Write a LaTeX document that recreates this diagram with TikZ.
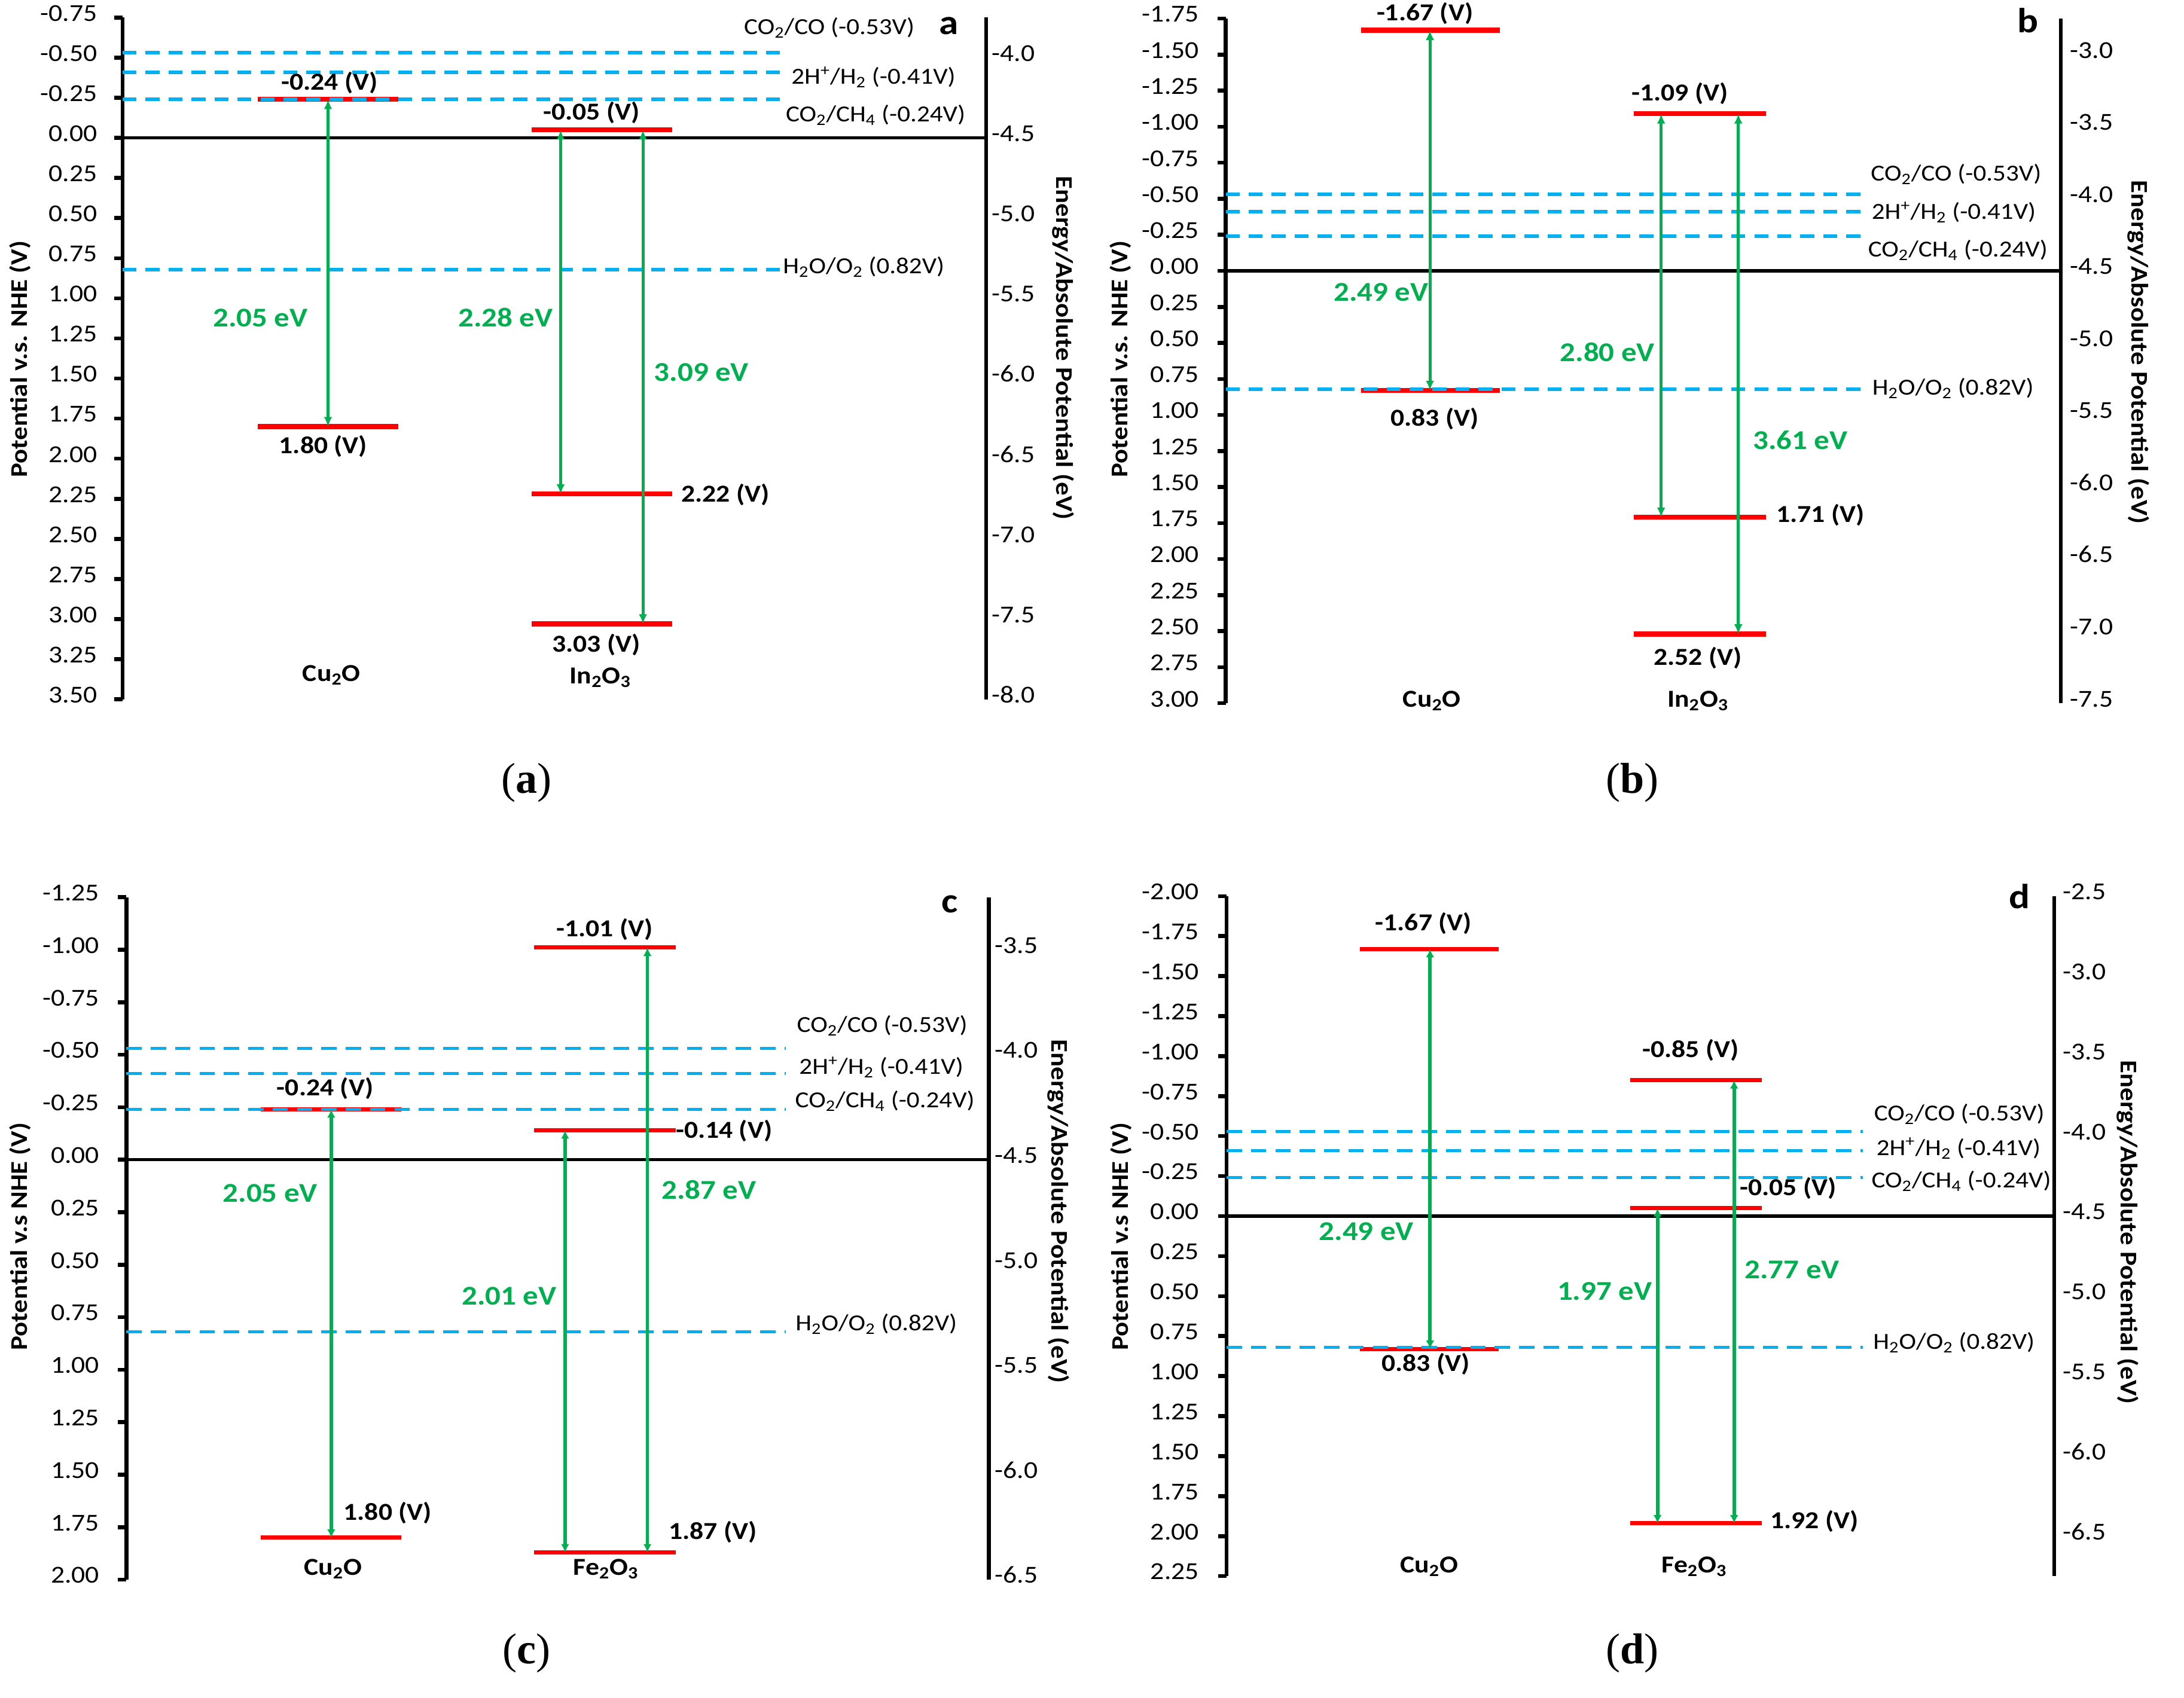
\documentclass[tikz,border=0pt]{standalone}
\usepackage{fontspec}
\setmainfont{Carlito}[FakeStretch=1.12]
\newfontfamily\capfont{Liberation Serif}
\usetikzlibrary{arrows.meta}
\definecolor{cyanl}{HTML}{00B0F0}
\definecolor{redl}{HTML}{FF0000}
\definecolor{greenl}{HTML}{00B050}
\tikzset{
  txt/.style={inner sep=0pt, text height=0.72em, text depth=0.22em},
  ticklab/.style={txt, anchor=east, font=\fontsize{17.5}{17.5}\selectfont},
  eaxlab/.style={txt, anchor=west, font=\fontsize{17.5}{17.5}\selectfont},
  vlab/.style={txt, font=\bfseries\fontsize{17.5}{17.5}\selectfont},
  gaplab/.style={txt, text=greenl, font=\bfseries\fontsize{19.5}{19.5}\selectfont},
  species/.style={txt, font=\bfseries\fontsize{17.5}{17.5}\selectfont},
  react/.style={txt, anchor=west, font=\fontsize{16.5}{16.5}\selectfont},
  atitle/.style={txt, font=\bfseries\fontsize{17.2}{17.2}\selectfont},
  plet/.style={txt, font=\bfseries\fontsize{25}{25}\selectfont},
  capt/.style={txt, font=\capfont\fontsize{31}{31}\selectfont},
  axisline/.style={line width=2.8pt, black},
  zeroline/.style={line width=2.2pt, black},
  band/.style={line width=3.6pt, redl},
  bandthin/.style={line width=3pt, redl},
  redox/.style={line width=2.6pt, cyanl, dash pattern=on 10pt off 6.5pt},
  redoxthin/.style={line width=2.3pt, cyanl, dash pattern=on 11pt off 6.5pt},
  gaparrow/.style={line width=2.1pt, greenl, {Latex[length=7pt,width=6pt]}-{Latex[length=7pt,width=6pt]}},
  gaparrowc/.style={line width=2.5pt, greenl, {Latex[length=6pt,width=6pt]}-{Latex[length=6pt,width=6pt]}},
}
\begin{document}
\begin{tikzpicture}[x=1pt, y=-1pt]
\fill[white] (0,0) rectangle (1568,1219);
\useasboundingbox (0,0) rectangle (1568,1219);

%================ Panel a =================
\begin{scope}[yshift=-99pt, y=-115.2pt]
  \draw[axisline] (88,-0.75) -- (88,3.5);
  \foreach \v/\t [count=\i] in {-0.75/-0.75,-0.5/-0.50,-0.25/-0.25,0/0.00,0.25/0.25,0.5/0.50,0.75/0.75,1/1.00,1.25/1.25,1.5/1.50,1.75/1.75,2/2.00,2.25/2.25,2.5/2.50,2.75/2.75,3/3.00,3.25/3.25,3.5/3.50}{
    \draw[axisline] (82,\v) -- (88,\v);
    \node[ticklab] (aT\i) at (70,\v) {\t};
  }
  \draw[axisline] (708,-0.75) -- (708,3.5);
  \foreach \v/\t [count=\i] in {-0.5/-4.0,0/-4.5,0.5/-5.0,1/-5.5,1.5/-6.0,2/-6.5,2.5/-7.0,3/-7.5,3.5/-8.0}{
    \node[eaxlab] (aE\i) at (712,\v) {\t};
  }
  \draw[zeroline] (88,0) -- (708,0);
  \draw[band] (185,-0.24) -- (286,-0.24);
  \draw[band] (185,1.80) -- (286,1.80);
  \draw[band] (381.6,-0.05) -- (482.6,-0.05);
  \draw[band] (381.6,2.22) -- (482.6,2.22);
  \draw[band] (381.6,3.03) -- (482.6,3.03);
  \foreach \v in {-0.53,-0.41,-0.24,0.82}{\draw[redox] (88,\v) -- (560,\v);}
  \coordinate (aCuC) at (235.5,-0.24);
  \coordinate (aCuV) at (235.5,1.80);
  \coordinate (aInC1) at (402.5,-0.05);
  \coordinate (aInV1) at (402.5,2.22);
  \coordinate (aInC2) at (461.6,-0.05);
  \coordinate (aInV2) at (461.6,3.03);
  \draw[gaparrow] (aCuC) -- (aCuV);
  \draw[gaparrow] (aInC1) -- (aInV1);
  \draw[gaparrow] (aInC2) -- (aInV2);
\end{scope}
\node[vlab] (aL1) at (236.6,62) {-0.24 (V)};
\node[vlab] (aL2) at (232,323) {1.80 (V)};
\node[vlab] (aL3) at (424.6,83.5) {-0.05 (V)};
\node[vlab, anchor=west] (aL4) at (489,358) {2.22 (V)};
\node[vlab] (aL5) at (428,465.5) {3.03 (V)};
\node[species] (aS1) at (238,486.7) {Cu\textsubscript{2}O};
\node[species] (aS2) at (431,488.6) {In\textsubscript{2}O\textsubscript{3}};
\node[gaplab] (aG1) at (187,232) {2.05 eV};
\node[gaplab] (aG2) at (363,232) {2.28 eV};
\node[gaplab] (aG3) at (503.6,271) {3.09 eV};
\node[react] (aR1) at (534,22) {CO\textsubscript{2}/CO (-0.53V)};
\node[react] (aR2) at (568,58) {2H\textsuperscript{+}/H\textsubscript{2} (-0.41V)};
\node[react] (aR3) at (564,85) {CO\textsubscript{2}/CH\textsubscript{4} (-0.24V)};
\node[react] (aR4) at (562,194) {H\textsubscript{2}O/O\textsubscript{2} (0.82V)};
\node[plet] (aP) at (681,22) {a};
\node[atitle, rotate=90] (aYL) at (17,258) {Potential v.s. NHE (V)};
\node[atitle, rotate=-90] (aYR) at (761,250) {Energy/Absolute Potential (eV)};
\node[capt] (aC) at (378,567) {(\textbf{a})};

%================ Panel b =================
\begin{scope}[yshift=-194.5pt, y=-103.5pt]
  \draw[axisline] (880,-1.75) -- (880,3.0);
  \foreach \v/\t [count=\i] in {-1.75/-1.75,-1.5/-1.50,-1.25/-1.25,-1/-1.00,-0.75/-0.75,-0.5/-0.50,-0.25/-0.25,0/0.00,0.25/0.25,0.5/0.50,0.75/0.75,1/1.00,1.25/1.25,1.5/1.50,1.75/1.75,2/2.00,2.25/2.25,2.5/2.50,2.75/2.75,3/3.00}{
    \draw[axisline] (874,\v) -- (880,\v);
    \node[ticklab] (bT\i) at (861,\v) {\t};
  }
  \draw[axisline] (1479.6,-1.75) -- (1479.6,3.0);
  \foreach \v/\t [count=\i] in {-1.5/-3.0,-1/-3.5,-0.5/-4.0,0/-4.5,0.5/-5.0,1/-5.5,1.5/-6.0,2/-6.5,2.5/-7.0,3/-7.5}{
    \node[eaxlab] (bE\i) at (1486,\v) {\t};
  }
  \draw[zeroline] (880,0) -- (1479.6,0);
  \draw[band] (977,-1.67) -- (1077,-1.67);
  \draw[band] (977,0.83) -- (1077,0.83);
  \draw[band] (1173,-1.09) -- (1268,-1.09);
  \draw[band] (1173,1.71) -- (1268,1.71);
  \draw[band] (1173,2.52) -- (1268,2.52);
  \foreach \v in {-0.53,-0.41,-0.24,0.82}{\draw[redox] (880,\v) -- (1342,\v);}
  \coordinate (bCuC) at (1026.6,-1.67);
  \coordinate (bCuV) at (1026.6,0.83);
  \coordinate (bInC1) at (1192.6,-1.09);
  \coordinate (bInV1) at (1192.6,1.71);
  \coordinate (bInC2) at (1248,-1.09);
  \coordinate (bInV2) at (1248,2.52);
  \draw[gaparrow] (bCuC) -- (bCuV);
  \draw[gaparrow] (bInC1) -- (bInV1);
  \draw[gaparrow] (bInC2) -- (bInV2);
\end{scope}
\node[vlab] (bL1) at (1023,12.4) {-1.67 (V)};
\node[vlab] (bL2) at (1030,303.6) {0.83 (V)};
\node[vlab] (bL3) at (1206,70) {-1.09 (V)};
\node[vlab, anchor=west] (bL4) at (1275,372.6) {1.71 (V)};
\node[vlab] (bL5) at (1219,475) {2.52 (V)};
\node[species] (bS1) at (1028,505) {Cu\textsubscript{2}O};
\node[species] (bS2) at (1219,505) {In\textsubscript{2}O\textsubscript{3}};
\node[gaplab] (bG1) at (991.5,213.7) {2.49 eV};
\node[gaplab] (bG2) at (1154,257) {2.80 eV};
\node[gaplab] (bG3) at (1292.5,320) {3.61 eV};
\node[react] (bR1) at (1343,127.5) {CO\textsubscript{2}/CO (-0.53V)};
\node[react] (bR2) at (1343.6,155) {2H\textsuperscript{+}/H\textsubscript{2} (-0.41V)};
\node[react] (bR3) at (1341,182) {CO\textsubscript{2}/CH\textsubscript{4} (-0.24V)};
\node[react] (bR4) at (1344,281) {H\textsubscript{2}O/O\textsubscript{2} (0.82V)};
\node[plet] (bP) at (1456,21) {b};
\node[atitle, rotate=90] (bYL) at (807,258) {Potential v.s. NHE (V)};
\node[atitle, rotate=-90] (bYR) at (1533,253) {Energy/Absolute Potential (eV)};
\node[capt] (bC) at (1172,567) {(\textbf{b})};

%================ Panel c =================
\begin{scope}[yshift=-832.8pt, y=-150.8pt]
  \draw[axisline] (90.7,-1.25) -- (90.7,2.0);
  \foreach \v/\t [count=\i] in {-1.25/-1.25,-1/-1.00,-0.75/-0.75,-0.5/-0.50,-0.25/-0.25,0/0.00,0.25/0.25,0.5/0.50,0.75/0.75,1/1.00,1.25/1.25,1.5/1.50,1.75/1.75,2/2.00}{
    \draw[axisline] (84.7,\v) -- (90.7,\v);
    \node[ticklab] (cT\i) at (71.5,\v) {\t};
  }
  \draw[axisline] (710,-1.25) -- (710,2.0);
  \foreach \v/\t [count=\i] in {-1/-3.5,-0.5/-4.0,0/-4.5,0.5/-5.0,1/-5.5,1.5/-6.0,2/-6.5}{
    \node[eaxlab] (cE\i) at (714,\v) {\t};
  }
  \draw[zeroline] (90.7,0) -- (710,0);
  \draw[bandthin] (187.4,-0.24) -- (288,-0.24);
  \draw[bandthin] (187.4,1.80) -- (288,1.80);
  \draw[bandthin] (383.5,-1.01) -- (485,-1.01);
  \draw[bandthin] (383.5,-0.14) -- (485,-0.14);
  \draw[bandthin] (383.5,1.87) -- (485,1.87);
  \foreach \v in {-0.53,-0.41,-0.24,0.82}{\draw[redoxthin] (90.7,\v) -- (564,\v);}
  \coordinate (cCuC) at (237.8,-0.24);
  \coordinate (cCuV) at (237.8,1.80);
  \coordinate (cFeC1) at (405.7,-0.14);
  \coordinate (cFeV1) at (405.7,1.87);
  \coordinate (cFeC2) at (464.8,-1.01);
  \coordinate (cFeV2) at (464.8,1.87);
  \draw[gaparrowc] (cCuC) -- (cCuV);
  \draw[gaparrowc] (cFeC1) -- (cFeV1);
  \draw[gaparrowc] (cFeC2) -- (cFeV2);
\end{scope}
\node[vlab] (cL1) at (233.4,784.4) {-0.24 (V)};
\node[vlab, anchor=west] (cL2) at (246.5,1089) {1.80 (V)};
\node[vlab] (cL3) at (434,670.2) {-1.01 (V)};
\node[vlab, anchor=west] (cL4) at (485,814.8) {-0.14 (V)};
\node[vlab, anchor=west] (cL5) at (480,1103) {1.87 (V)};
\node[species] (cS1) at (239,1128.8) {Cu\textsubscript{2}O};
\node[species] (cS2) at (435,1128.8) {Fe\textsubscript{2}O\textsubscript{3}};
\node[gaplab] (cG1) at (194,860.5) {2.05 eV};
\node[gaplab] (cG2) at (365.5,934.7) {2.01 eV};
\node[gaplab] (cG3) at (509,858.6) {2.87 eV};
\node[react] (cR1) at (572,738.6) {CO\textsubscript{2}/CO (-0.53V)};
\node[react] (cR2) at (573.6,769) {2H\textsuperscript{+}/H\textsubscript{2} (-0.41V)};
\node[react] (cR3) at (570.7,792.7) {CO\textsubscript{2}/CH\textsubscript{4} (-0.24V)};
\node[react] (cR4) at (571,953) {H\textsubscript{2}O/O\textsubscript{2} (0.82V)};
\node[plet] (cP) at (682,653) {c};
\node[atitle, rotate=90] (cYL) at (17.2,888) {Potential v.s NHE (V)};
\node[atitle, rotate=-90] (cYR) at (757.4,870) {Energy/Absolute Potential (eV)};
\node[capt] (cC) at (378,1192) {(\textbf{c})};

%================ Panel d =================
\begin{scope}[yshift=-873.3pt, y=-114.9pt]
  \draw[axisline] (880.6,-2.0) -- (880.6,2.25);
  \foreach \v/\t [count=\i] in {-2/-2.00,-1.75/-1.75,-1.5/-1.50,-1.25/-1.25,-1/-1.00,-0.75/-0.75,-0.5/-0.50,-0.25/-0.25,0/0.00,0.25/0.25,0.5/0.50,0.75/0.75,1/1.00,1.25/1.25,1.5/1.50,1.75/1.75,2/2.00,2.25/2.25}{
    \draw[axisline] (874.6,\v) -- (880.6,\v);
    \node[ticklab] (dT\i) at (861,\v) {\t};
  }
  \draw[axisline] (1474.8,-2.0) -- (1474.8,2.25);
  \foreach \v/\t [count=\i] in {-2/-2.5,-1.5/-3.0,-1/-3.5,-0.5/-4.0,0/-4.5,0.5/-5.0,1/-5.5,1.5/-6.0,2/-6.5}{
    \node[eaxlab] (dE\i) at (1481,\v) {\t};
  }
  \draw[zeroline] (880.6,0) -- (1474.8,0);
  \draw[bandthin] (976.2,-1.67) -- (1076,-1.67);
  \draw[bandthin] (976.2,0.83) -- (1076,0.83);
  \draw[bandthin] (1170.4,-0.85) -- (1264.8,-0.85);
  \draw[bandthin] (1170.4,-0.05) -- (1264.8,-0.05);
  \draw[bandthin] (1170.4,1.92) -- (1264.8,1.92);
  \foreach \v in {-0.53,-0.41,-0.24,0.82}{\draw[redoxthin] (880.6,\v) -- (1337.3,\v);}
  \coordinate (dCuC) at (1026.7,-1.67);
  \coordinate (dCuV) at (1026.7,0.83);
  \coordinate (dFeC1) at (1190,-0.05);
  \coordinate (dFeV1) at (1190,1.92);
  \coordinate (dFeC2) at (1245,-0.85);
  \coordinate (dFeV2) at (1245,1.92);
  \draw[gaparrowc] (dCuC) -- (dCuV);
  \draw[gaparrowc] (dFeC1) -- (dFeV1);
  \draw[gaparrowc] (dFeC2) -- (dFeV2);
\end{scope}
\node[vlab] (dL1) at (1022,665.6) {-1.67 (V)};
\node[vlab] (dL2) at (1023.6,982.3) {0.83 (V)};
\node[vlab] (dL3) at (1213.8,756.6) {-0.85 (V)};
\node[vlab, anchor=west] (dL4) at (1249,855.9) {-0.05 (V)};
\node[vlab, anchor=west] (dL5) at (1270.7,1095.3) {1.92 (V)};
\node[species] (dS1) at (1026,1127) {Cu\textsubscript{2}O};
\node[species] (dS2) at (1216.4,1127) {Fe\textsubscript{2}O\textsubscript{3}};
\node[gaplab] (dG1) at (981,888.3) {2.49 eV};
\node[gaplab] (dG2) at (1152,931) {1.97 eV};
\node[gaplab] (dG3) at (1286.6,915.7) {2.77 eV};
\node[react] (dR1) at (1345.3,802.2) {CO\textsubscript{2}/CO (-0.53V)};
\node[react] (dR2) at (1347,827) {2H\textsuperscript{+}/H\textsubscript{2} (-0.41V)};
\node[react] (dR3) at (1343.5,850.2) {CO\textsubscript{2}/CH\textsubscript{4} (-0.24V)};
\node[react] (dR4) at (1344.7,966.3) {H\textsubscript{2}O/O\textsubscript{2} (0.82V)};
\node[plet] (dP) at (1450,650) {d};
\node[atitle, rotate=90] (dYL) at (807.4,888) {Potential v.s NHE (V)};
\node[atitle, rotate=-90] (dYR) at (1525.3,885) {Energy/Absolute Potential (eV)};
\node[capt] (dC) at (1172,1192) {(\textbf{d})};
\end{tikzpicture}
\end{document}
